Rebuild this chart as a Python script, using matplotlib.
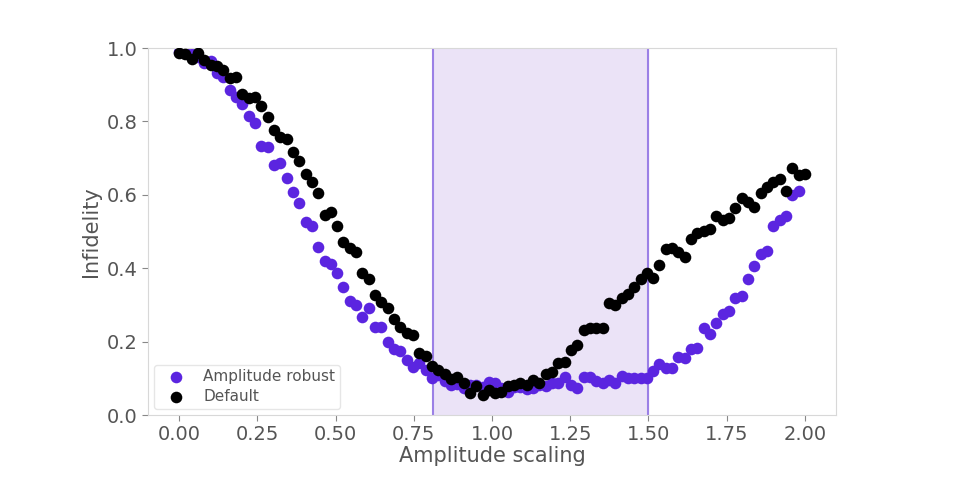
import matplotlib
matplotlib.use('Agg')
import matplotlib.pyplot as plt
import numpy as np

# amplitude scaling grid (100 samples from 0 to 2)
amplitude = np.linspace(0, 2, 100)

infid_default = [
    0.987, 0.984, 0.970, 0.987, 0.967, 0.954, 0.951, 0.940, 0.917, 0.922,
    0.875, 0.865, 0.867, 0.842, 0.811, 0.777, 0.758, 0.752, 0.718, 0.693,
    0.658, 0.636, 0.604, 0.545, 0.554, 0.515, 0.472, 0.454, 0.443, 0.386,
    0.370, 0.326, 0.309, 0.291, 0.262, 0.241, 0.223, 0.218, 0.170, 0.161,
    0.134, 0.123, 0.112, 0.097, 0.104, 0.086, 0.061, 0.079, 0.054, 0.068,
    0.059, 0.064, 0.079, 0.082, 0.086, 0.082, 0.095, 0.088, 0.112, 0.118,
    0.142, 0.145, 0.177, 0.191, 0.232, 0.236, 0.236, 0.236, 0.304, 0.300,
    0.318, 0.330, 0.348, 0.372, 0.388, 0.374, 0.409, 0.452, 0.454, 0.445,
    0.431, 0.479, 0.497, 0.502, 0.506, 0.542, 0.531, 0.536, 0.563, 0.590,
    0.581, 0.567, 0.606, 0.622, 0.634, 0.642, 0.611, 0.672, 0.654, 0.658,
]

infid_robust = [
    0.990, 0.990, 0.985, 0.975, 0.958, 0.965, 0.931, 0.922, 0.886, 0.867,
    0.847, 0.815, 0.797, 0.733, 0.731, 0.681, 0.687, 0.645, 0.607, 0.578,
    0.527, 0.514, 0.459, 0.421, 0.412, 0.388, 0.350, 0.311, 0.300, 0.268,
    0.291, 0.241, 0.241, 0.200, 0.181, 0.175, 0.150, 0.130, 0.143, 0.124,
    0.102, 0.109, 0.093, 0.082, 0.084, 0.073, 0.082, 0.082, 0.077, 0.090,
    0.088, 0.073, 0.064, 0.077, 0.077, 0.070, 0.073, 0.082, 0.079, 0.086,
    0.088, 0.104, 0.082, 0.073, 0.103, 0.103, 0.093, 0.086, 0.095, 0.086,
    0.106, 0.102, 0.100, 0.100, 0.102, 0.120, 0.138, 0.127, 0.127, 0.159,
    0.156, 0.179, 0.182, 0.236, 0.222, 0.250, 0.275, 0.283, 0.318, 0.324,
    0.372, 0.406, 0.440, 0.447, 0.515, 0.531, 0.542, 0.599, 0.611,
]

# robust region of the amplitude scaling
robust_range = (0.81, 1.5)

purple = '#5b25e0'
text_gray = '#555555'

fig = plt.figure(figsize=(9.6, 4.9), dpi=100)
ax = fig.add_axes([0.154, 0.153, 0.717, 0.749])

ax.axvspan(*robust_range, color='#ebe3f7', zorder=0)
for xv in robust_range:
    ax.axvline(xv, color='#9b80e6', linewidth=1.5, zorder=1)

ax.scatter(amplitude[:len(infid_robust)], infid_robust, s=70, color=purple,
           label='Amplitude robust', zorder=2, linewidths=0)
ax.scatter(amplitude, infid_default, s=70, color='black',
           label='Default', zorder=3, linewidths=0)

ax.set_ylim(0, 1.0)
ax.set_xlim(-0.1, 2.1)
ax.set_xticks([0.0, 0.25, 0.5, 0.75, 1.0, 1.25, 1.5, 1.75, 2.0])
ax.set_yticks([0.0, 0.2, 0.4, 0.6, 0.8, 1.0])
ax.set_xticklabels(['0.00', '0.25', '0.50', '0.75', '1.00', '1.25', '1.50', '1.75', '2.00'])
ax.set_yticklabels(['0.0', '0.2', '0.4', '0.6', '0.8', '1.0'])

ax.set_xlabel('Amplitude scaling', fontsize=15, color=text_gray, labelpad=1)
ax.set_ylabel('Infidelity', fontsize=15, color=text_gray, labelpad=4)
ax.tick_params(axis='both', labelsize=14, colors='#888888', labelcolor=text_gray,
               length=4, width=0.8)

for spine in ax.spines.values():
    spine.set_color('#d8d8d8')
    spine.set_linewidth(0.8)

leg = ax.legend(loc='lower left', fontsize=11, frameon=True, borderpad=0.32,
                handletextpad=0.6, labelspacing=0.3, borderaxespad=0.4,
                handlelength=2.3)
leg.get_frame().set_edgecolor('#e0e0e0')
for t in leg.get_texts():
    t.set_color(text_gray)

plt.savefig('out.png', dpi=100)
plt.close(fig)
